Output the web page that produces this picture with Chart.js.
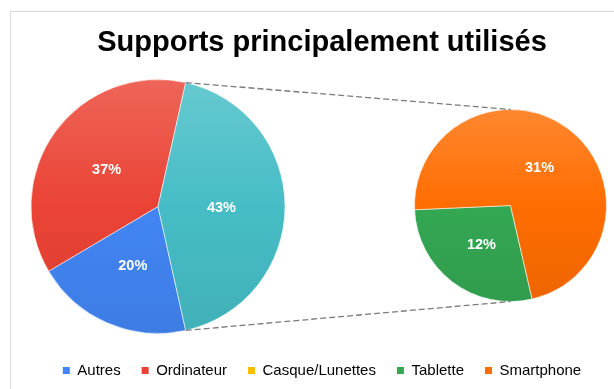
<!DOCTYPE html>
<html lang="fr">
<head>
<meta charset="utf-8">
<title>Supports principalement utilisés</title>
<script src="https://cdn.jsdelivr.net/npm/chart.js@4"></script>
<style>
  html, body { margin: 0; padding: 0; background: #fff; }
  #wrap { position: relative; width: 614px; height: 389px; overflow: hidden; }
  #frame { position: absolute; left: 10px; top: 11px; width: 700px; height: 420px; border: 1px solid #d9d9d9; }
  #wrap canvas { position: absolute; left: 0; top: 0; }
</style>
</head>
<body>
<div id="wrap">
  <div id="frame"></div>
  <canvas id="frameChart" width="614" height="389"></canvas>
  <canvas id="mainPie" width="614" height="389"></canvas>
  <canvas id="subPie" width="614" height="389"></canvas>
</div>
<script>
const labels = ['Autres', 'Ordinateur', 'Casque/Lunettes', 'Tablette', 'Smartphone'];
const percents = [20, 37, 0, 12, 31];
const colors = ['#4285F4', '#EA4335', '#FBBC04', '#34A853', '#FF6D01'];
const groupColor = '#46BDC6';
// slices from this index on are grouped in the main pie and split out in the small one
const splitAt = 2;

const mainValues = percents.slice(0, splitAt);
const subValues = percents.slice(splitAt);
const groupTotal = subValues.reduce((a, b) => a + b, 0);
mainValues.push(groupTotal);
const mainColors = colors.slice(0, splitAt).concat([groupColor]);
const subColors = colors.slice(splitAt);

Chart.defaults.font.family = "'Liberation Sans', Arial, sans-serif";
Chart.defaults.animation = false;

function mix(hex, target, amount) {
  const a = parseInt(hex.slice(1), 16), b = parseInt(target.slice(1), 16);
  const ch = (v, s) => (v >> s) & 255;
  const out = [16, 8, 0].map(s => Math.round(ch(a, s) + (ch(b, s) - ch(a, s)) * amount));
  return 'rgb(' + out.join(',') + ')';
}

// light at the top of the pie, darker towards the bottom
function shaded(list) {
  return (ctx) => {
    const base = list[ctx.dataIndex];
    const area = ctx.chart.chartArea;
    if (!area) return base;
    const g = ctx.chart.ctx.createLinearGradient(0, area.top, 0, area.bottom);
    g.addColorStop(0, mix(base, '#ffffff', 0.18));
    g.addColorStop(0.5, base);
    g.addColorStop(1, mix(base, '#000000', 0.07));
    return g;
  };
}

const valueLabels = {
  id: 'valueLabels',
  afterDatasetsDraw(chart) {
    const ctx = chart.ctx;
    const values = chart.data.datasets[0].data;
    ctx.save();
    ctx.font = "bold 14.5px 'Liberation Sans', Arial, sans-serif";
    ctx.fillStyle = '#fff';
    ctx.textAlign = 'center';
    ctx.textBaseline = 'middle';
    chart.getDatasetMeta(0).data.forEach((arc, i) => {
      if (!values[i]) return;
      const p = arc.tooltipPosition();
      ctx.fillText(values[i] + '%', p.x, p.y + 1);
    });
    ctx.restore();
  }
};

const pieOptions = (padding, rotation) => ({
  responsive: false,
  rotation,
  layout: { padding },
  events: [],
  plugins: { legend: { display: false }, title: { display: false }, tooltip: { enabled: false } }
});

const mainPie = new Chart(document.getElementById('mainPie'), {
  type: 'pie',
  data: {
    labels: labels.slice(0, splitAt).concat(['Autres supports']),
    datasets: [{
      data: mainValues,
      backgroundColor: shaded(mainColors),
      borderColor: 'rgba(255,255,255,0.55)',
      borderWidth: 1
    }]
  },
  // grouped slice is centred on the right-hand side, facing the small pie
  options: pieOptions({ left: 30, right: 328, top: 79, bottom: 55 }, 90 + groupTotal * 1.8),
  plugins: [valueLabels]
});

// dashed lines from the grouped slice edges to the top and bottom of the small pie
const connectors = {
  id: 'connectors',
  afterDraw(chart) {
    const metaMain = mainPie.getDatasetMeta(0);
    const group = metaMain.data[metaMain.data.length - 1];
    const sub = chart.getDatasetMeta(0).data[0];
    if (!group || !sub) return;
    const ctx = chart.ctx;
    const r = group.outerRadius;
    ctx.save();
    ctx.strokeStyle = '#7a7a7a';
    ctx.lineWidth = 1.3;
    ctx.setLineDash([6, 3]);
    ctx.beginPath();
    ctx.moveTo(group.x + Math.cos(group.startAngle) * r, group.y + Math.sin(group.startAngle) * r);
    ctx.lineTo(sub.x, sub.y - sub.outerRadius);
    ctx.moveTo(group.x + Math.cos(group.endAngle) * r, group.y + Math.sin(group.endAngle) * r);
    ctx.lineTo(sub.x, sub.y + sub.outerRadius);
    ctx.stroke();
    ctx.restore();
  }
};

new Chart(document.getElementById('subPie'), {
  type: 'pie',
  data: {
    labels: labels.slice(splitAt),
    datasets: [{
      data: subValues,
      backgroundColor: shaded(subColors),
      borderColor: 'rgba(255,255,255,0.55)',
      borderWidth: 1
    }]
  },
  options: pieOptions({ left: 414, right: 7, top: 109, bottom: 87 }, 167),
  plugins: [valueLabels, connectors]
});

// title and the shared legend
new Chart(document.getElementById('frameChart'), {
  type: 'pie',
  data: { labels, datasets: [] },
  options: {
    responsive: false,
    events: [],
    layout: { padding: { left: 30, right: 0, top: 0, bottom: 1 } },
    plugins: {
      tooltip: { enabled: false },
      title: {
        display: true,
        text: 'Supports principalement utilisés',
        color: '#000',
        font: { size: 29, weight: 'bold' },
        padding: { top: 26, bottom: 10 }
      },
      legend: {
        position: 'bottom',
        labels: {
          color: '#111',
          font: { size: 15 },
          boxWidth: 7,
          boxHeight: 7,
          padding: 21,
          generateLabels: () => labels.map((text, i) => ({
            text,
            fillStyle: colors[i],
            strokeStyle: colors[i],
            lineWidth: 0,
            hidden: false,
            index: i
          }))
        }
      }
    }
  }
});
</script>
</body>
</html>
